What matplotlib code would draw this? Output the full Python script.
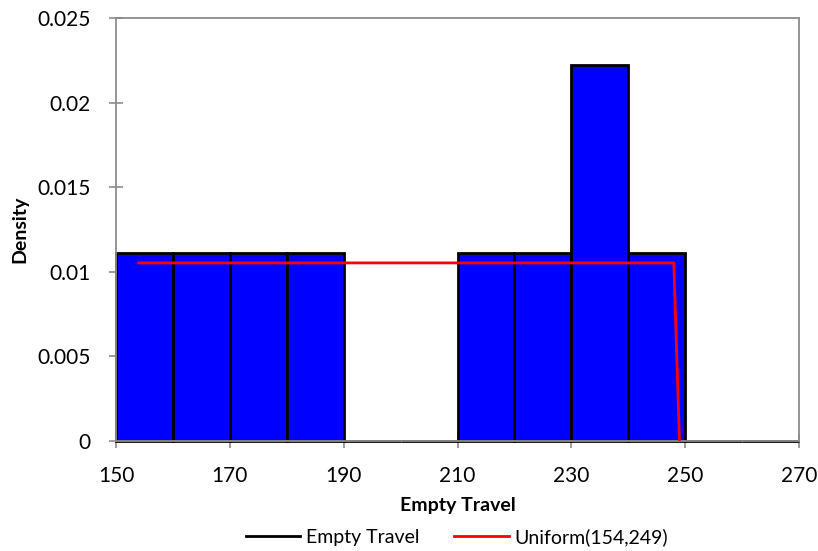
import numpy as np
import matplotlib.pyplot as plt

plt.rcParams['font.family'] = ['Lato', 'DejaVu Sans']

# Histogram of empty travel (bin edges and density per bin)
bin_edges = [150, 160, 170, 180, 190, 200, 210, 220, 230, 240, 250, 260, 270]
density = [0.0111, 0.0111, 0.0111, 0.0111, 0.0, 0.0, 0.0111, 0.0111, 0.0222, 0.0111, 0.0, 0.0]

# Fitted Uniform(154,249) density curve
fit_x = [154, 248, 249]
fit_y = [0.010526, 0.010526, 0.0]

fig = plt.figure(figsize=(8.18, 5.51), dpi=100)
ax = fig.add_axes([116 / 818, 110 / 551, 683 / 818, 423 / 551])

edges = np.array(bin_edges, dtype=float)
ax.bar(edges[:-1], density, width=np.diff(edges), align='edge',
       color='#0000ff', edgecolor='black', linewidth=2, zorder=2, clip_on=False)
ax.plot([], [], color='black', linewidth=2, label='Empty Travel')
ax.plot(fit_x, fit_y, color='#ff0000', linewidth=2, zorder=3,
        label='Uniform(154,249)')

ax.set_xlim(150, 270)
ax.set_ylim(0, 0.025)
ax.set_xticks(np.arange(150, 271, 20))
ax.set_yticks([0, 0.005, 0.01, 0.015, 0.02, 0.025])
ax.set_yticklabels(['0', '0.005', '0.01', '0.015', '0.02', '0.025'])

gray = '#8c8c8c'
for s in ax.spines.values():
    s.set_color(gray)
    s.set_linewidth(1.3)
ax.tick_params(direction='inout', length=10, width=1.2, color=gray,
               labelsize=15, labelcolor='black')
ax.tick_params(axis='x', pad=13)
ax.tick_params(axis='y', pad=13)

ax.set_xlabel('Empty Travel', fontsize=14, fontweight='bold')
ax.set_ylabel('Density', fontsize=14, fontweight='bold')
ax.xaxis.set_label_coords(0.5, -0.132)
ax.yaxis.set_label_coords(-0.129, 0.5)

fig.legend(loc='center', bbox_to_anchor=(457 / 818, 14 / 551), ncol=2,
           frameon=False, fontsize=14, handlelength=2.8, columnspacing=1.8,
           handletextpad=0.3, borderpad=0)

fig.savefig('out.png', dpi=100)
